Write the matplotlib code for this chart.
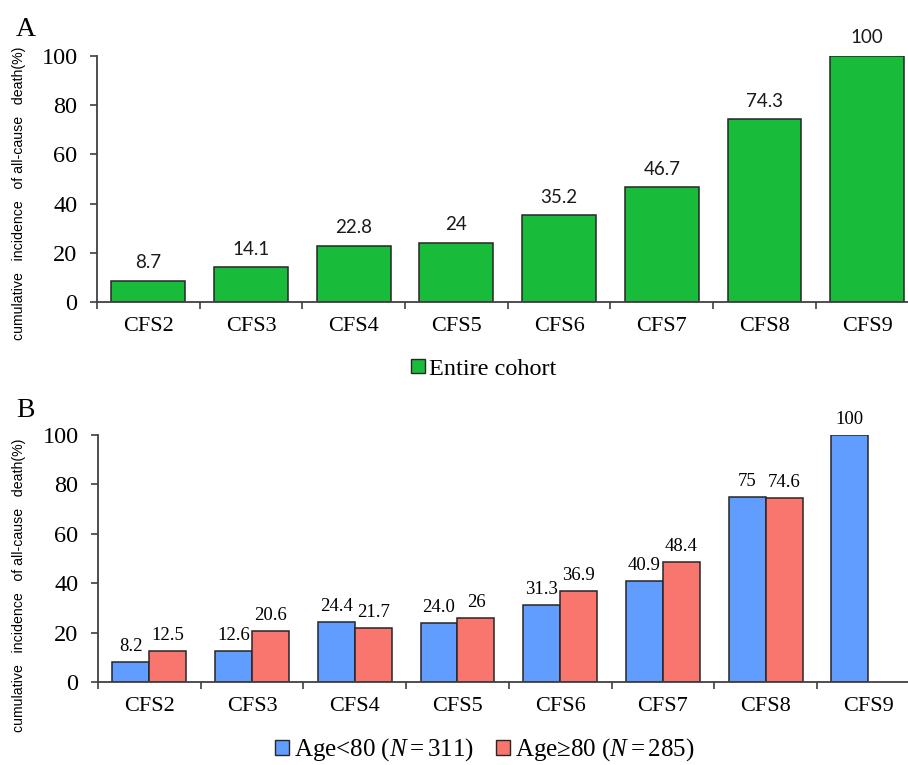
import numpy as np
import matplotlib
matplotlib.use("Agg")
import matplotlib.pyplot as plt
from matplotlib.patches import Patch

plt.rcParams['mathtext.fontset'] = 'custom'
plt.rcParams['mathtext.rm'] = 'Liberation Serif'
plt.rcParams['mathtext.it'] = 'Liberation Serif:italic'

categories = ['CFS2', 'CFS3', 'CFS4', 'CFS5', 'CFS6', 'CFS7', 'CFS8', 'CFS9']

# panel A: whole cohort
entire = [8.7, 14.1, 22.8, 24, 35.2, 46.7, 74.3, 100]
entire_labels = ['8.7', '14.1', '22.8', '24', '35.2', '46.7', '74.3', '100']

# panel B: split by age (no >=80 patients in CFS9)
young = [8.2, 12.6, 24.4, 24.0, 31.3, 40.9, 75, 100]
young_labels = ['8.2', '12.6', '24.4', '24.0', '31.3', '40.9', '75', '100']
old = [12.5, 20.6, 21.7, 26, 36.9, 48.4, 74.6, np.nan]
old_labels = ['12.5', '20.6', '21.7', '26', '36.9', '48.4', '74.6', '']

GREEN = '#19BC3A'
BLUE = '#619CFF'
RED = '#F8766D'
EDGE = '#262626'
SPINE = '#404040'
SERIF = 'Liberation Serif'

ylabel = 'cumulative   incidence   of all-cause   death(%)'

fig = plt.figure(figsize=(9.08, 7.65), dpi=100)
axA = fig.add_axes([0.1068, 0.6052, 0.9048, 0.3216])
axB = fig.add_axes([0.1080, 0.1085, 0.9048, 0.3229])


def style_axes(ax):
    ax.set_xlim(-0.5, 7.5)
    ax.set_ylim(0, 100)
    for s in ['top', 'right']:
        ax.spines[s].set_visible(False)
    for s in ['left', 'bottom']:
        ax.spines[s].set_color(SPINE)
        ax.spines[s].set_linewidth(1.3)
    ax.set_yticks(np.arange(0, 101, 20))
    ax.set_yticklabels([str(v) for v in range(0, 101, 20)], fontfamily=SERIF, fontsize=17.5)
    ax.tick_params(axis='y', length=5, width=1.2, color=SPINE, pad=9)
    ax.set_xticks(np.arange(len(categories)))
    ax.set_xticklabels(categories, fontfamily=SERIF, fontsize=16)
    ax.set_xticks(np.arange(-0.5, len(categories), 1), minor=True)
    ax.tick_params(axis='x', which='major', length=0, pad=11)
    ax.tick_params(axis='x', which='minor', length=5, width=1.2, color=SPINE)


x = np.arange(len(categories))

# ---- A ----
style_axes(axA)
axA.bar(x, entire, width=0.72, color=GREEN, edgecolor=EDGE, linewidth=1.1)
for xi, v, lab in zip(x, entire, entire_labels):
    axA.annotate(lab, (xi, v), xytext=(0, 9), textcoords='offset points',
                 ha='center', va='baseline', fontsize=13.5, fontfamily='Lato',
                 color='#1a1a1a', annotation_clip=False)

axA.legend(handles=[Patch(facecolor=GREEN, edgecolor=EDGE, linewidth=1.0)],
           labels=['Entire cohort'], loc='center',
           bbox_to_anchor=(484 / 908, 1 - 369 / 765), bbox_transform=fig.transFigure,
           frameon=False, prop={'family': SERIF, 'size': 17.5},
           handlelength=0.55, handleheight=0.55, handletextpad=0.2)

# ---- B ----
style_axes(axB)
w = 0.36
axB.bar(x - w / 2, young, width=w, color=BLUE, edgecolor=EDGE, linewidth=1.1)
axB.bar(x + w / 2, old, width=w, color=RED, edgecolor=EDGE, linewidth=1.1)
for xi, v, lab in zip(x - w / 2, young, young_labels):
    axB.annotate(lab, (xi, v), xytext=(0, 8), textcoords='offset points',
                 ha='center', va='baseline', fontsize=13.5, fontfamily=SERIF,
                 annotation_clip=False)
for xi, v, lab in zip(x + w / 2, old, old_labels):
    if np.isnan(v):
        continue
    axB.annotate(lab, (xi, v), xytext=(0, 8), textcoords='offset points',
                 ha='center', va='baseline', fontsize=13.5, fontfamily=SERIF,
                 annotation_clip=False)

axB.legend(handles=[Patch(facecolor=BLUE, edgecolor=EDGE, linewidth=1.0),
                    Patch(facecolor=RED, edgecolor=EDGE, linewidth=1.0)],
           labels=['Age<80 ($\\mathit{N}$$=$311)', 'Age\u226580 ($\\mathit{N}$$=$285)'],
           loc='center', ncol=2,
           bbox_to_anchor=(485 / 908, 1 - 750 / 765), bbox_transform=fig.transFigure,
           frameon=False, prop={'family': SERIF, 'size': 18},
           handlelength=0.55, handleheight=0.55, handletextpad=0.2, columnspacing=0.9)

# panel letters and y labels
fig.text(16 / 908, 1 - 36 / 765, 'A', fontfamily=SERIF, fontsize=20, va='baseline')
fig.text(16 / 908, 1 - 417 / 765, 'B', fontfamily=SERIF, fontsize=20, va='baseline')
fig.text(19 / 908, 1 - 193 / 765, ylabel, rotation=90, ha='center', va='center',
         fontfamily='Liberation Sans', fontsize=10.2)
fig.text(19 / 908, 1 - 585 / 765, ylabel, rotation=90, ha='center', va='center',
         fontfamily='Liberation Sans', fontsize=10.2)

fig.savefig('out.png', dpi=100, facecolor='white')
